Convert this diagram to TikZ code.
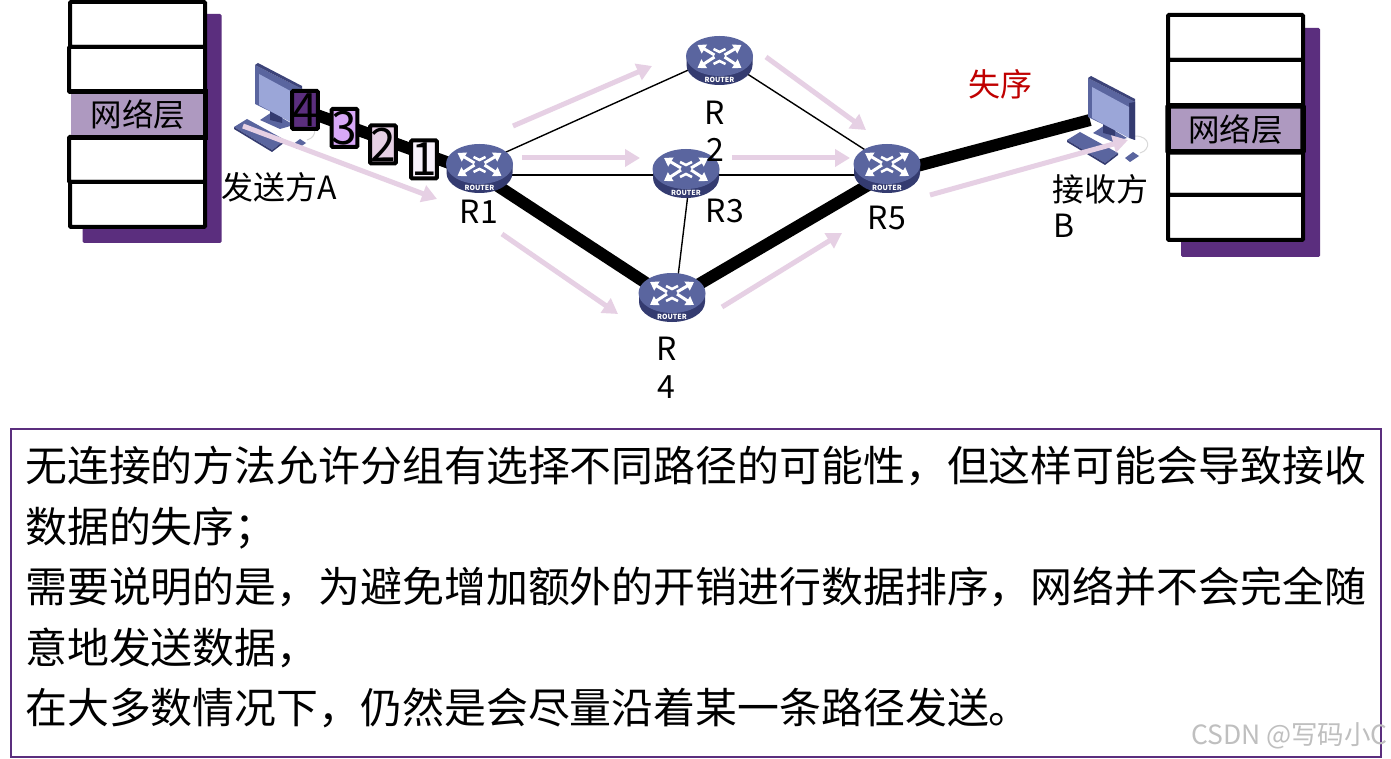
\documentclass[tikz,border=0pt]{standalone}
\usepackage{fontspec}
\setmainfont{Noto Sans CJK SC}
\usetikzlibrary{arrows.meta,shapes.geometric}
\definecolor{deep}{HTML}{5B2E7E}
\definecolor{midp}{HTML}{AE99C0}
\definecolor{pale}{HTML}{E6D0E4}
\definecolor{lilac}{HTML}{D8A8F8}
\definecolor{faint}{HTML}{F7F1FB}
\definecolor{lossred}{HTML}{C00000}
\definecolor{rtop}{HTML}{5A659F}
\definecolor{rside}{HTML}{343B70}
\definecolor{scr}{HTML}{9BA6D8}
\tikzset{
  routerhit/.style={ellipse,minimum width=66pt,minimum height=40pt,inner sep=0pt},
  layerbox/.style={draw=black,line width=4pt,fill=white,rounded corners=1pt,minimum width=135pt,inner sep=0pt,font=\fontsize{31.5}{31.5}\selectfont},
  layermid/.style={layerbox,line width=5.5pt,fill=midp},
  shadowbox/.style={fill=deep,rounded corners=1.5pt,draw=none,inner sep=0pt,minimum width=139pt,minimum height=229pt},
  packet/.style={draw=black,line width=4pt,rounded corners=1pt,minimum width=22pt,minimum height=38pt,inner sep=0pt,text=black,font=\fontsize{46}{46}\selectfont},
  thinlink/.style={draw=black,line width=1.4pt},
  thicklink/.style={draw=black,line width=12pt},
  flow/.style={draw=pale,line width=5pt,-{Triangle[length=15pt,width=17pt]}},
  lab/.style={inner sep=0pt,text=black,font=\fontsize{32}{32}\selectfont},
  bodyline/.style={anchor=base west,inner sep=0pt,text=black,font=\fontsize{41.9}{42}\selectfont},
  router/.pic={
    \fill[rside] (-33,0) -- (-33,9) arc[start angle=180,end angle=0,x radius=33,y radius=20] -- (33,0) -- cycle;
    \fill[rtop] (0,0) circle[x radius=33.5,y radius=20];
    \foreach \sx in {-1,1}{
      \draw[white,line width=3pt,-{Triangle[length=8pt,width=10pt]}] (\sx*5,-1) -- (\sx*22,-11);
      \draw[white,line width=3pt,-{Triangle[length=8pt,width=10pt]}] (\sx*5,1) -- (\sx*22,12);
    }
    \draw[white,line width=2.6pt] (-6,-7) -- (0,-4) -- (6,-7);
    \draw[white,line width=2.6pt] (-6,8) -- (0,5) -- (6,8);
    \node[inner sep=0pt,text=white,font=\fontsize{7}{7}\selectfont\bfseries] (tag) at (0,24) {ROUTER};
  },
  computer/.pic={
    \draw[black!15,line width=1pt] (47,58) .. controls (63,58) and (63,72) .. (52,75);
    \fill[rtop] (5,55) -- (17,47) -- (39,60) -- (25,64) -- cycle;
    \fill[rside] (15,45) -- (27,45) -- (27,58) -- (15,55) -- cycle;
    \fill[rtop] (0,0) -- (47,24) -- (47,62) -- (0,39) -- cycle;
    \fill[rside!80!rtop] (0,0) -- (3,-2) -- (47,21) -- (47,24) -- cycle;
    \fill[rside] (41,25) -- (47,24) -- (47,62) -- (41,60) -- cycle;
    \fill[scr] (4,9) -- (41,29) -- (41,60) -- (4,40) -- cycle;
    \fill[rtop] (-21,62) -- (-8,54) -- (30,75) -- (17,85) -- cycle;
    \fill[rside] (-21,62) -- (17,85) -- (17,87) -- (-21,64) -- cycle;
    \fill[rside] (17,85) -- (30,75) -- (30,77) -- (17,87) -- cycle;
    \fill[rtop] (37,80) -- (45,74) -- (51,78) -- (42,84) -- cycle;
  }
}
\begin{document}
\begin{tikzpicture}[x=1pt,y=-1pt]
\useasboundingbox (0,0) rectangle (1391,759);
\fill[white] (0,0) rectangle (1391,759);

% stacks, left
\node[shadowbox] (shadowL) at (152,128.5) {};
\node[layerbox,minimum height=45pt] (l1) at (137.5,24.5) {};
\node[layerbox,minimum height=45pt,minimum width=136pt] (l2) at (137,69.5) {};
\node[layerbox,minimum height=45pt,minimum width=136pt] (l4) at (137,159.5) {};
\node[layerbox,minimum height=45pt] (l5) at (137.5,204.5) {};
\node[fill=midp,inner sep=0pt,minimum width=134pt,minimum height=45pt,font=\fontsize{31.5}{31.5}\selectfont] (l3) at (138,114.5) {网络层};
\draw[line width=5pt] (l3.north west) -- (l3.north east) -- (l3.south east) -- (l3.south west);

% stacks, right
\node[shadowbox] (shadowR) at (1250.5,142.5) {};
\node[layerbox,minimum height=45pt] (s1) at (1235.5,37.5) {};
\node[layerbox,minimum height=46pt] (s2) at (1235.5,83) {};
\node[layerbox,minimum height=43pt] (s4) at (1235.5,173.5) {};
\node[layerbox,minimum height=45pt] (s5) at (1235.5,217.5) {};
\node[layermid,minimum height=46pt] (s3) at (1235.5,129) {网络层};

% routers (anchors)
\node[routerhit] (r1) at (479.5,164) {};
\node[routerhit] (r2) at (719.5,56) {};
\node[routerhit] (r3) at (686,169) {};
\node[routerhit] (r4) at (672,293) {};
\node[routerhit] (r5) at (887,164) {};
\coordinate (pcA) at (303,110);
\coordinate (pcB) at (1090,120);

% links
\draw[thinlink] (r1.center) -- (r2.center);
\draw[thinlink] ([yshift=-11pt]r1.center) -- ([yshift=-6pt]r3.center);
\draw[thinlink] ([yshift=-6pt]r3.center) -- ([yshift=-11pt]r5.center);
\draw[thinlink] (r2.center) -- (r5.center);
\draw[thinlink] ([xshift=5pt]r3.center) -- ([xshift=4pt]r4.center);
\draw[thicklink] (pcB) -- ([yshift=-10pt]r5.center);

% computers
\pic at (255,65) {computer};
\pic at (1088,78) {computer};

\draw[thicklink] (pcA) -- ([yshift=-10pt]r1.center);
\draw[thicklink] ([yshift=-10pt]r1.center) -- ([yshift=-7pt]r4.center);
\draw[thicklink] ([yshift=-7pt]r4.center) -- ([yshift=-10pt]r5.center);

\pic (picr1) at (r1.center) {router};
\pic (picr2) at (r2.center) {router};
\pic (picr3) at (r3.center) {router};
\pic (picr4) at (r4.center) {router};
\pic (picr5) at (r5.center) {router};

% packets
\node[packet,fill=deep] (p4) at (305,110) {4};
\node[packet,fill=lilac] (p3) at (344.5,128) {3};
\node[packet,fill=pale] (p2) at (383,144.5) {2};
\node[packet,fill=faint] (p1) at (424,159.5) {1};

% flows
\coordinate (f1a) at (243,126); \coordinate (f1b) at (437,199);
\coordinate (f2a) at (513,126); \coordinate (f2b) at (652,66);
\coordinate (f3a) at (522,158); \coordinate (f3b) at (640,158);
\coordinate (f4a) at (502,234); \coordinate (f4b) at (618,314);
\coordinate (f5a) at (766,57);  \coordinate (f5b) at (866,130);
\coordinate (f6a) at (732,158); \coordinate (f6b) at (850,158);
\coordinate (f7a) at (722,307); \coordinate (f7b) at (842,233);
\coordinate (f8a) at (930,195); \coordinate (f8b) at (1128,140);
\draw[flow] (f1a) -- (f1b);
\draw[flow] (f2a) -- (f2b);
\draw[flow] (f3a) -- (f3b);
\draw[flow] (f4a) -- (f4b);
\draw[flow] (f5a) -- (f5b);
\draw[flow] (f6a) -- (f6b);
\draw[flow] (f7a) -- (f7b);
\draw[flow] (f8a) -- (f8b);

% labels
\node[lab] (tA) at (279,187) {发送方A};
\node[lab] (tR1) at (479,212) {R1};
\node[lab] (tR2a) at (715,113) {R};
\node[lab] (tR2b) at (715,150) {2};
\node[lab] (tR3) at (725,211) {R3};
\node[lab] (tR4a) at (667,349) {R};
\node[lab] (tR4b) at (666,387) {4};
\node[lab] (tR5) at (887,218) {R5};
\node[lab,text=lossred] (tLoss) at (1000,84) {失序};
\node[lab] (tB1) at (1100.5,189) {接收方};
\node[lab] (tB2) at (1064,226) {B};

% text panel
\node[draw=deep,line width=2pt,minimum width=1370pt,minimum height=328pt,inner sep=0pt] (panel) at (696,593) {};
\node[bodyline] (b1) at (25,481) {无连接的方法允许分组有选择不同路径的可能性，但这样可能会导致接收};
\node[bodyline] (b2) at (25,542) {数据的失序；};
\node[bodyline] (b3) at (25,602) {需要说明的是，为避免增加额外的开销进行数据排序，网络并不会完全随};
\node[bodyline] (b4) at (25,663) {意地发送数据，};
\node[bodyline] (b5) at (25,723) {在大多数情况下，仍然是会尽量沿着某一条路径发送。};
\node[anchor=east,inner sep=0pt,text=black!25,font=\fontsize{26.5}{26.5}\selectfont] (wm) at (1388,736) {CSDN @写码小C};
\end{tikzpicture}
\end{document}
